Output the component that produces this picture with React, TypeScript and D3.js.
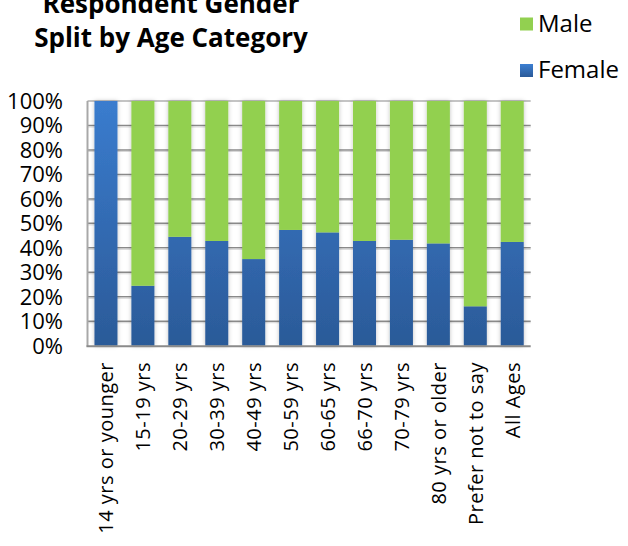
import React from "react";
import * as d3 from "d3";

const categories = [
  "14 yrs or younger", "15-19 yrs", "20-29 yrs", "30-39 yrs", "40-49 yrs", "50-59 yrs",
  "60-65 yrs", "66-70 yrs", "70-79 yrs", "80 yrs or older", "Prefer not to say", "All Ages",
];
const female = [1.0, 0.245, 0.445, 0.428, 0.354, 0.473, 0.463, 0.428, 0.433, 0.418, 0.161, 0.424];
const male = female.map((f) => 1 - f);
const yTicks = [0, 0.1, 0.2, 0.3, 0.4, 0.5, 0.6, 0.7, 0.8, 0.9, 1.0];
const titleLines = ["Respondent Gender", "Split by Age Category"];
const legendItems = [
  { name: "Male", color: "#92D050" },
  { name: "Female", color: "url(#blueGrad)" },
];

const W = 628, H = 546;
const left = 87.5, right = 530.7, top = 101, bottom = 345.7;
const FONT = "'Open Sans', sans-serif";

export default function App() {
  const x = d3.scaleBand<string>().domain(categories).range([left, right]).paddingInner(0.377).paddingOuter(0.1885);
  const y = d3.scaleLinear().domain([0, 1]).range([bottom, top]);
  const fmt = d3.format(".0%");
  return (
    <svg width={W} height={H} style={{ position: "absolute", left: 0, top: 0, background: "#fff" }}>
      <defs>
        <linearGradient id="blueGrad" x1="0" y1="0" x2="0" y2="1">
          <stop offset="0%" stopColor="#3C7FD2" />
          <stop offset="100%" stopColor="#2B5A98" />
        </linearGradient>
        <linearGradient id="blueGradBar" x1="0" y1={top} x2="0" y2={bottom} gradientUnits="userSpaceOnUse">
          <stop offset="0%" stopColor="#3A7CCE" />
          <stop offset="100%" stopColor="#2B5A98" />
        </linearGradient>
        <filter id="shadow" x="-30%" y="-5%" width="160%" height="110%">
          <feDropShadow dx="0" dy="0" stdDeviation="2" floodColor="#000" floodOpacity="0.25" />
        </filter>
      </defs>
      {/* gridlines */}
      {yTicks.filter((t) => t > 0 && t < 1).map((t) => (
        <g key={t}>
          <line x1={left} x2={right} y1={y(t)} y2={y(t)} stroke="#8a8a8a" strokeWidth={1.5} />
          <line x1={left} x2={right} y1={y(t) + 1.5} y2={y(t) + 1.5} stroke="#d6d6d6" strokeWidth={1} />
        </g>
      ))}
      <line x1={left} x2={right} y1={top} y2={top} stroke="#c4c4c4" strokeWidth={2} />
      {/* bars */}
      {categories.map((c, i) => {
        const x0 = x(c)!;
        const bw = x.bandwidth();
        return (
          <g key={c} filter="url(#shadow)">
            <rect x={x0} y={y(female[i])} width={bw} height={y(0) - y(female[i])} fill="url(#blueGradBar)" />
            {male[i] > 0 && (
              <rect x={x0} y={y(1)} width={bw} height={y(female[i]) - y(1)} fill="#92D050" />
            )}
          </g>
        );
      })}
      {/* axes */}
      <line x1={left} x2={left} y1={top} y2={bottom + 1} stroke="#a8a8a8" strokeWidth={2} />
      <line x1={left - 1} x2={right} y1={bottom + 0.5} y2={bottom + 0.5} stroke="#8a8a8a" strokeWidth={2} />
      {/* y tick labels */}
      {yTicks.map((t) => (
        <text key={t} x={63} y={y(t) + 8} textAnchor="end" fontFamily={FONT} fontSize={22} fill="#000">
          {fmt(t)}
        </text>
      ))}
      {/* x labels */}
      {categories.map((c) => {
        const cx = x(c)! + x.bandwidth() / 2;
        return (
          <text key={c} transform={`translate(${cx + 7.5},${362}) rotate(-90)`} textAnchor="end" fontFamily={FONT} fontSize={20} letterSpacing={0.5} fill="#000">
            {c}
          </text>
        );
      })}
      {/* title */}
      {titleLines.map((l, i) => (
        <text key={l} x={171} y={13 + i * 33.7} textAnchor="middle" fontFamily={FONT} fontWeight="bold" fontSize={26} fill="#000">
          {l}
        </text>
      ))}
      {/* legend */}
      {legendItems.map((it, i) => (
        <g key={it.name}>
          <rect x={520} y={17.5 + i * 46.5} width={13} height={13} fill={it.color} />
          <text x={538} y={31.7 + i * 46.5} fontFamily={FONT} fontSize={24} fill="#000">{it.name}</text>
        </g>
      ))}
    </svg>
  );
}
